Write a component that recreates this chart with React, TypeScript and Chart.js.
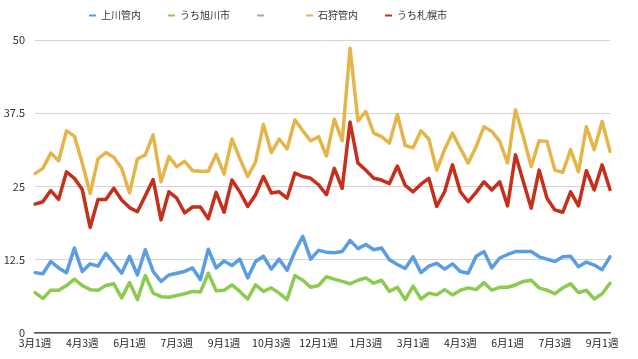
import React, { useEffect, useRef } from 'react';
import { Chart, registerables } from 'chart.js';

Chart.register(...registerables);

// Week categories (74 weekly points)
const weeks: string[] = [
  '3月1週', '3月2週', '3月3週', '3月4週', '4月1週', '4月2週', '4月3週', '4月4週',
  '5月1週', '5月2週', '5月3週', '5月4週', '6月1週', '6月2週', '6月3週', '6月4週',
  '7月1週', '7月2週', '7月3週', '7月4週', '8月1週', '8月2週', '8月3週', '8月4週',
  '9月1週', '9月2週', '9月3週', '9月4週', '10月1週', '10月2週', '10月3週', '10月4週',
  '11月1週', '11月2週', '11月3週', '11月4週', '12月1週', '12月2週', '12月3週', '12月4週',
  '1月1週', '1月2週', '1月3週', '1月4週', '2月1週', '2月2週', '2月3週', '2月4週',
  '3月1週', '3月2週', '3月3週', '3月4週', '4月1週', '4月2週', '4月3週', '4月4週',
  '5月1週', '5月2週', '5月3週', '5月4週', '6月1週', '6月2週', '6月3週', '6月4週',
  '7月1週', '7月2週', '7月3週', '7月4週', '8月1週', '8月2週', '8月3週', '8月4週',
  '9月1週', '9月2週',
];
const LABEL_EVERY = 6;

const kamikawa: number[] = [
  10.3, 10.1, 12.2, 11.1, 10.3, 14.5, 10.5, 11.8, 11.4, 13.6,
  11.9, 10.2, 13.1, 9.9, 14.2, 10.5, 8.8, 9.9, 10.2, 10.5,
  11.1, 9.1, 14.3, 11.1, 12.3, 11.5, 12.6, 9.4, 12.2, 13.1,
  10.9, 12.6, 10.7, 13.9, 16.5, 12.6, 14.1, 13.8, 13.7, 13.9,
  15.8, 14.4, 15.1, 14.2, 14.5, 12.5, 11.7, 11.0, 13.0, 10.3,
  11.4, 11.9, 10.9, 11.8, 10.5, 10.2, 13.1, 13.9, 11.1, 12.8,
  13.4, 13.9, 13.9, 13.9, 13.0, 12.6, 12.2, 13.0, 13.1, 11.3,
  12.1, 11.6, 10.8, 13.0,
];

const asahikawa: number[] = [
  6.9, 5.9, 7.3, 7.3, 8.1, 9.2, 8.1, 7.4, 7.3, 8.1,
  8.4, 6.0, 8.6, 5.7, 9.8, 6.8, 6.2, 6.1, 6.4, 6.7,
  7.1, 7.0, 10.2, 7.2, 7.3, 8.2, 7.1, 5.8, 8.2, 7.1,
  7.7, 6.8, 5.7, 9.8, 9.0, 7.8, 8.1, 9.6, 9.2, 8.8,
  8.4, 9.0, 9.4, 8.5, 9.0, 7.1, 7.8, 5.7, 8.0, 5.8,
  6.8, 6.5, 7.4, 6.5, 7.3, 7.7, 7.4, 8.6, 7.3, 7.8,
  7.8, 8.2, 8.8, 9.0, 7.7, 7.3, 6.7, 7.7, 8.4, 6.9,
  7.3, 5.8, 6.7, 8.5,
];

const blankSeries: (number | null)[] = [];

const ishikari: number[] = [
  27.2, 28.1, 30.7, 29.4, 34.5, 33.6, 29.0, 23.8, 29.7, 30.8,
  30.0, 28.1, 23.9, 29.7, 30.4, 33.8, 25.8, 30.1, 28.4, 29.3,
  27.7, 27.6, 27.6, 30.5, 27.1, 33.1, 29.8, 26.7, 29.2, 35.6,
  30.8, 33.1, 31.4, 36.4, 34.5, 32.8, 33.5, 30.2, 36.5, 32.8,
  48.6, 36.2, 37.8, 34.1, 33.5, 32.4, 37.3, 32.0, 31.6, 34.5,
  33.1, 27.8, 31.3, 34.1, 31.5, 29.0, 31.8, 35.2, 34.4, 32.7,
  29.0, 38.1, 33.5, 28.4, 32.8, 32.7, 27.8, 27.4, 31.3, 27.5,
  35.2, 31.3, 36.1, 31.0,
];

const sapporo: number[] = [
  22.0, 22.4, 24.3, 22.8, 27.5, 26.4, 24.5, 18.0, 22.8, 22.8,
  24.7, 22.7, 21.4, 20.7, 23.4, 26.2, 19.3, 24.1, 23.0, 20.5,
  21.5, 21.5, 19.5, 24.0, 20.6, 26.1, 24.1, 21.6, 23.6, 26.7,
  23.9, 24.1, 23.0, 27.3, 26.7, 26.4, 25.3, 23.6, 28.1, 24.7,
  36.0, 29.0, 27.8, 26.4, 26.1, 25.5, 28.5, 25.2, 24.1, 25.4,
  26.4, 21.6, 24.1, 28.7, 24.1, 22.4, 24.0, 25.8, 24.4, 25.8,
  21.7, 30.4, 25.8, 21.3, 27.8, 23.0, 21.0, 20.6, 24.1, 21.7,
  27.7, 24.4, 28.7, 24.5,
];

const seriesNames = ['上川管内', 'うち旭川市', '\u3000', '石狩管内', 'うち札幌市'];
const seriesColors = ['#5b9de2', '#8ccb50', '#a8a8a8', '#e4b64a', '#c4301c'];

const yTicks = { min: 0, max: 50, step: 12.5 };

const FONT = '"Noto Sans CJK JP", "Noto Sans", sans-serif';

const topLegend = {
  id: 'topLegend',
  afterDraw(chart: any) {
    const ctx = chart.ctx as CanvasRenderingContext2D;
    ctx.save();
    ctx.font = `10px ${FONT}`;
    ctx.textBaseline = 'middle';
    ctx.textAlign = 'left';
    let x = 89;
    const y = 15.5;
    chart.data.datasets.forEach((ds: any) => {
      ctx.fillStyle = ds.borderColor;
      ctx.fillRect(x, y - 1, 7, 2);
      x += 12;
      ctx.fillStyle = '#333';
      ctx.fillText(ds.label, x, y);
      x += ctx.measureText(ds.label).width + 27;
    });
    ctx.restore();
  },
};

export default function App() {
  const ref = useRef<HTMLCanvasElement | null>(null);

  useEffect(() => {
    if (!ref.current) return;
    const allData = [kamikawa, asahikawa, blankSeries, ishikari, sapporo];
    const chart = new Chart(ref.current, {
      type: 'line',
      data: {
        labels: weeks,
        datasets: allData.map((d, i) => ({
          label: seriesNames[i],
          data: d,
          borderColor: seriesColors[i],
          backgroundColor: seriesColors[i],
          borderWidth: 3.5,
          pointRadius: 0,
          tension: 0,
          fill: false,
          borderJoinStyle: 'round' as const,
          borderCapStyle: 'round' as const,
        })),
      },
      options: {
        responsive: false,
        animation: false,
        devicePixelRatio: 1,
        layout: { padding: { top: 40, right: 28, bottom: 0, left: 0 } },
        plugins: {
          legend: { display: false },
          tooltip: { enabled: false },
        },
        scales: {
          x: {
            type: 'category',
            offset: false,
            grid: { display: false, drawTicks: false },
            border: { display: true, color: '#555', width: 1.5 },
            ticks: {
              autoSkip: false,
              maxRotation: 0,
              minRotation: 0,
              padding: 4,
              color: '#222',
              font: { family: FONT, size: 10.5 },
              callback: (_v: any, i: number) => (i % LABEL_EVERY === 0 ? weeks[i] : ''),
            },
            afterFit: (s: any) => {
              s.height = 26;
            },
          },
          y: {
            min: yTicks.min,
            max: yTicks.max,
            ticks: {
              stepSize: yTicks.step,
              padding: 10,
              color: '#333',
              font: { family: FONT, size: 11 },
            },
            grid: { color: '#d4d4d4', lineWidth: 1, drawTicks: false },
            border: { display: false },
            afterFit: (s: any) => {
              s.width = 35;
            },
          },
        },
      },
      plugins: [topLegend],
    });
    return () => chart.destroy();
  }, []);

  return (
    <div style={{ position: 'fixed', left: 0, top: 0, width: 638, height: 359, background: '#fff' }}>
      <canvas ref={ref} width={638} height={359} style={{ width: 638, height: 359 }} />
    </div>
  );
}
